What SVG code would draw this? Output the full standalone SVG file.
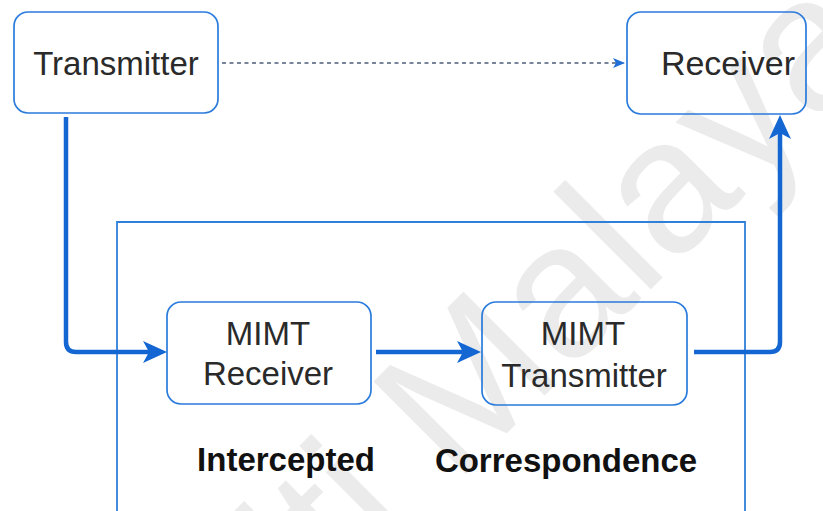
<svg xmlns="http://www.w3.org/2000/svg" width="823" height="511" viewBox="0 0 823 511">
  <style>
    .node { fill: none; stroke: #2a7bdc; stroke-width: 1.7; }
    .frame { fill: none; stroke: #2f80d8; stroke-width: 1.8; }
    .label { font-family: "Liberation Sans", Arial, sans-serif; font-size: 33px; fill: #2a2a2a; text-anchor: middle; }
    .caption { font-family: "Liberation Sans", Arial, sans-serif; font-size: 33px; font-weight: bold; fill: #111; text-anchor: middle; }
    .flow { fill: none; stroke: #1467d3; stroke-width: 4.5; marker-end: url(#head); }
    .link { fill: none; stroke: #4e5f7a; stroke-width: 1.4; stroke-dasharray: 4 3.5; marker-end: url(#headSmall); }
    .mark { font-family: "Liberation Sans", Arial, sans-serif; font-size: 190px; fill: #ebebeb; }
  </style>
  <defs>
    <marker id="head" viewBox="0 0 24 22" refX="14" refY="11" markerWidth="24" markerHeight="22" markerUnits="userSpaceOnUse" orient="auto">
      <path d="M24,11 L0,0 L6,11 L0,22 Z" fill="#1467d3"/>
    </marker>
    <marker id="headSmall" viewBox="0 0 12 10" refX="12" refY="5" markerWidth="12" markerHeight="10" markerUnits="userSpaceOnUse" orient="auto">
      <path d="M12,5 L0,0 L3,5 L0,10 Z" fill="#1f6fd6"/>
    </marker>
  </defs>

  <rect width="823" height="511" fill="#ffffff"/>

  <!-- background watermark -->
  <g transform="translate(455 485) rotate(-45)">
    <text class="mark" x="-834" y="0">Universiti Malaya</text>
  </g>

  <!-- enclosing frame, open at the bottom -->
  <path id="frame" class="frame" d="M117,515 V222 H745 V515"/>

  <g id="transmitter">
    <rect class="node" x="14" y="12" width="204" height="101" rx="14"/>
    <text class="label" x="116" y="75" font-size="34">Transmitter</text>
  </g>

  <g id="receiver">
    <rect class="node" x="627" y="12" width="179" height="102" rx="14"/>
    <text class="label" x="728" y="75" style="font-size:34px">Receiver</text>
  </g>

  <g id="mimt-receiver">
    <rect class="node" x="167" y="302" width="204" height="102" rx="14"/>
    <text class="label" x="268" y="345">MIMT</text>
    <text class="label" x="268" y="385">Receiver</text>
  </g>

  <g id="mimt-transmitter">
    <rect class="node" x="482" y="302" width="205" height="103" rx="14"/>
    <text class="label" x="583" y="345">MIMT</text>
    <text class="label" x="584" y="387">Transmitter</text>
  </g>

  <g id="captions">
    <text class="caption" x="286" y="471">Intercepted</text>
    <text class="caption" x="566" y="472">Correspondence</text>
  </g>

  <g id="connectors">
    <path class="link" d="M222,63 H625"/>
    <path class="flow" d="M66,117 V342 Q66,352 76,352 H157"/>
    <path class="flow" d="M376,352 H471"/>
    <path class="flow" d="M694,352 H770 Q780,352 780,342 V125"/>
  </g>
</svg>
